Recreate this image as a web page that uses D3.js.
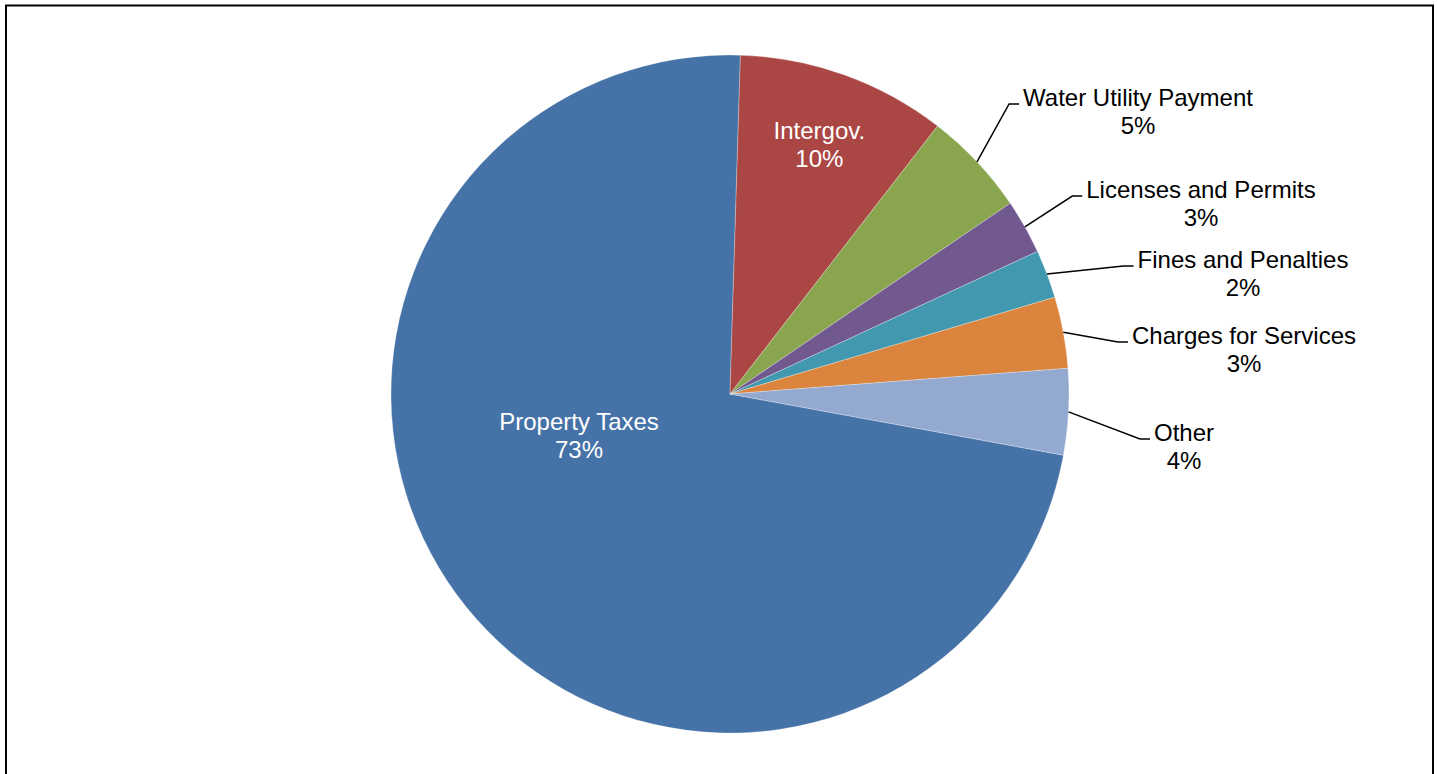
<!DOCTYPE html>
<html><head><meta charset="utf-8">
<script src="https://cdn.jsdelivr.net/npm/d3@7"></script>
<style>html,body{margin:0;padding:0;background:#fff;}svg{display:block;}</style>
</head><body>
<svg id="chart" width="1438" height="774"></svg>
<script>
const categories = ["Property Taxes","Intergov.","Water Utility Payment","Licenses and Permits","Fines and Penalties","Charges for Services","Other"];
const values = [72.6, 10.0, 5.0, 2.6, 2.3, 3.4, 4.1];
const pctLabels = ["73%","10%","5%","3%","2%","3%","4%"];
const colors = ["#4572A7","#AA4643","#89A54E","#71588F","#4198AF","#DB843D","#93A9CF"];

const W = 1438, H = 774;
const cx = 730, cy = 394, R = 339;
const startDeg = 100.4;
const font = "'Liberation Sans', Arial, sans-serif";
const fs = 24, lh = 28;

const svg = d3.select("#chart");
svg.append("rect").attr("x",6).attr("y",5.5).attr("width",1427).attr("height",790)
  .attr("fill","none").attr("stroke","#000").attr("stroke-width",2);

const pie = d3.pie().sort(null).value(d=>d)
  .startAngle(startDeg*Math.PI/180).endAngle(startDeg*Math.PI/180 + 2*Math.PI);
const arcs = pie(values);
const arc = d3.arc().innerRadius(0).outerRadius(R);
const g = svg.append("g").attr("transform",`translate(${cx},${cy})`);
g.selectAll("path").data(arcs).join("path")
  .attr("d",arc).attr("fill",(d,i)=>colors[i])
  .attr("stroke","#ffffff").attr("stroke-opacity",0.35).attr("stroke-width",0.8);

// inside labels
const inside = [
  {i:0, dx:-151, dy:42},
  {i:1, frac:0.78}
];
inside.forEach(o=>{
  const a = arcs[o.i];
  let x, y;
  if (o.frac) {
    const m = (a.startAngle + a.endAngle)/2;
    x = Math.sin(m)*R*o.frac; y = -Math.cos(m)*R*o.frac - 6;
  } else { x = o.dx; y = o.dy - 6; }
  const t = g.append("text").attr("text-anchor","middle").attr("fill","#fff")
    .style("font-family",font).style("font-size",fs+"px");
  t.append("tspan").attr("x",x).attr("y",y).text(categories[o.i]);
  t.append("tspan").attr("x",x).attr("y",y+lh).text(pctLabels[o.i]);
});

// outside labels
const outside = [
  {i:2, lx:1138, ly:106},
  {i:3, lx:1201, ly:198},
  {i:4, lx:1243, ly:268},
  {i:5, lx:1244, ly:344},
  {i:6, lx:1184, ly:441}
];
outside.forEach(o=>{
  const a = arcs[o.i];
  const m = (a.startAngle + a.endAngle)/2;
  const sx = cx + Math.sin(m)*R, sy = cy - Math.cos(m)*R;
  const t = svg.append("text").attr("text-anchor","middle").attr("fill","#000")
    .style("font-family",font).style("font-size",fs+"px");
  const t1 = t.append("tspan").attr("x",o.lx).attr("y",o.ly).text(categories[o.i]);
  t.append("tspan").attr("x",o.lx).attr("y",o.ly+lh).text(pctLabels[o.i]);
  const w = t1.node().getComputedTextLength();
  const left = o.lx - w/2;
  const ey = o.ly - 2;
  const hx = left - 4, ex = hx - 10;
  svg.append("path").attr("d",`M${sx},${sy}L${ex},${ey}L${hx},${ey}`)
    .attr("fill","none").attr("stroke","#000").attr("stroke-width",1.5);
});
</script>
</body></html>
